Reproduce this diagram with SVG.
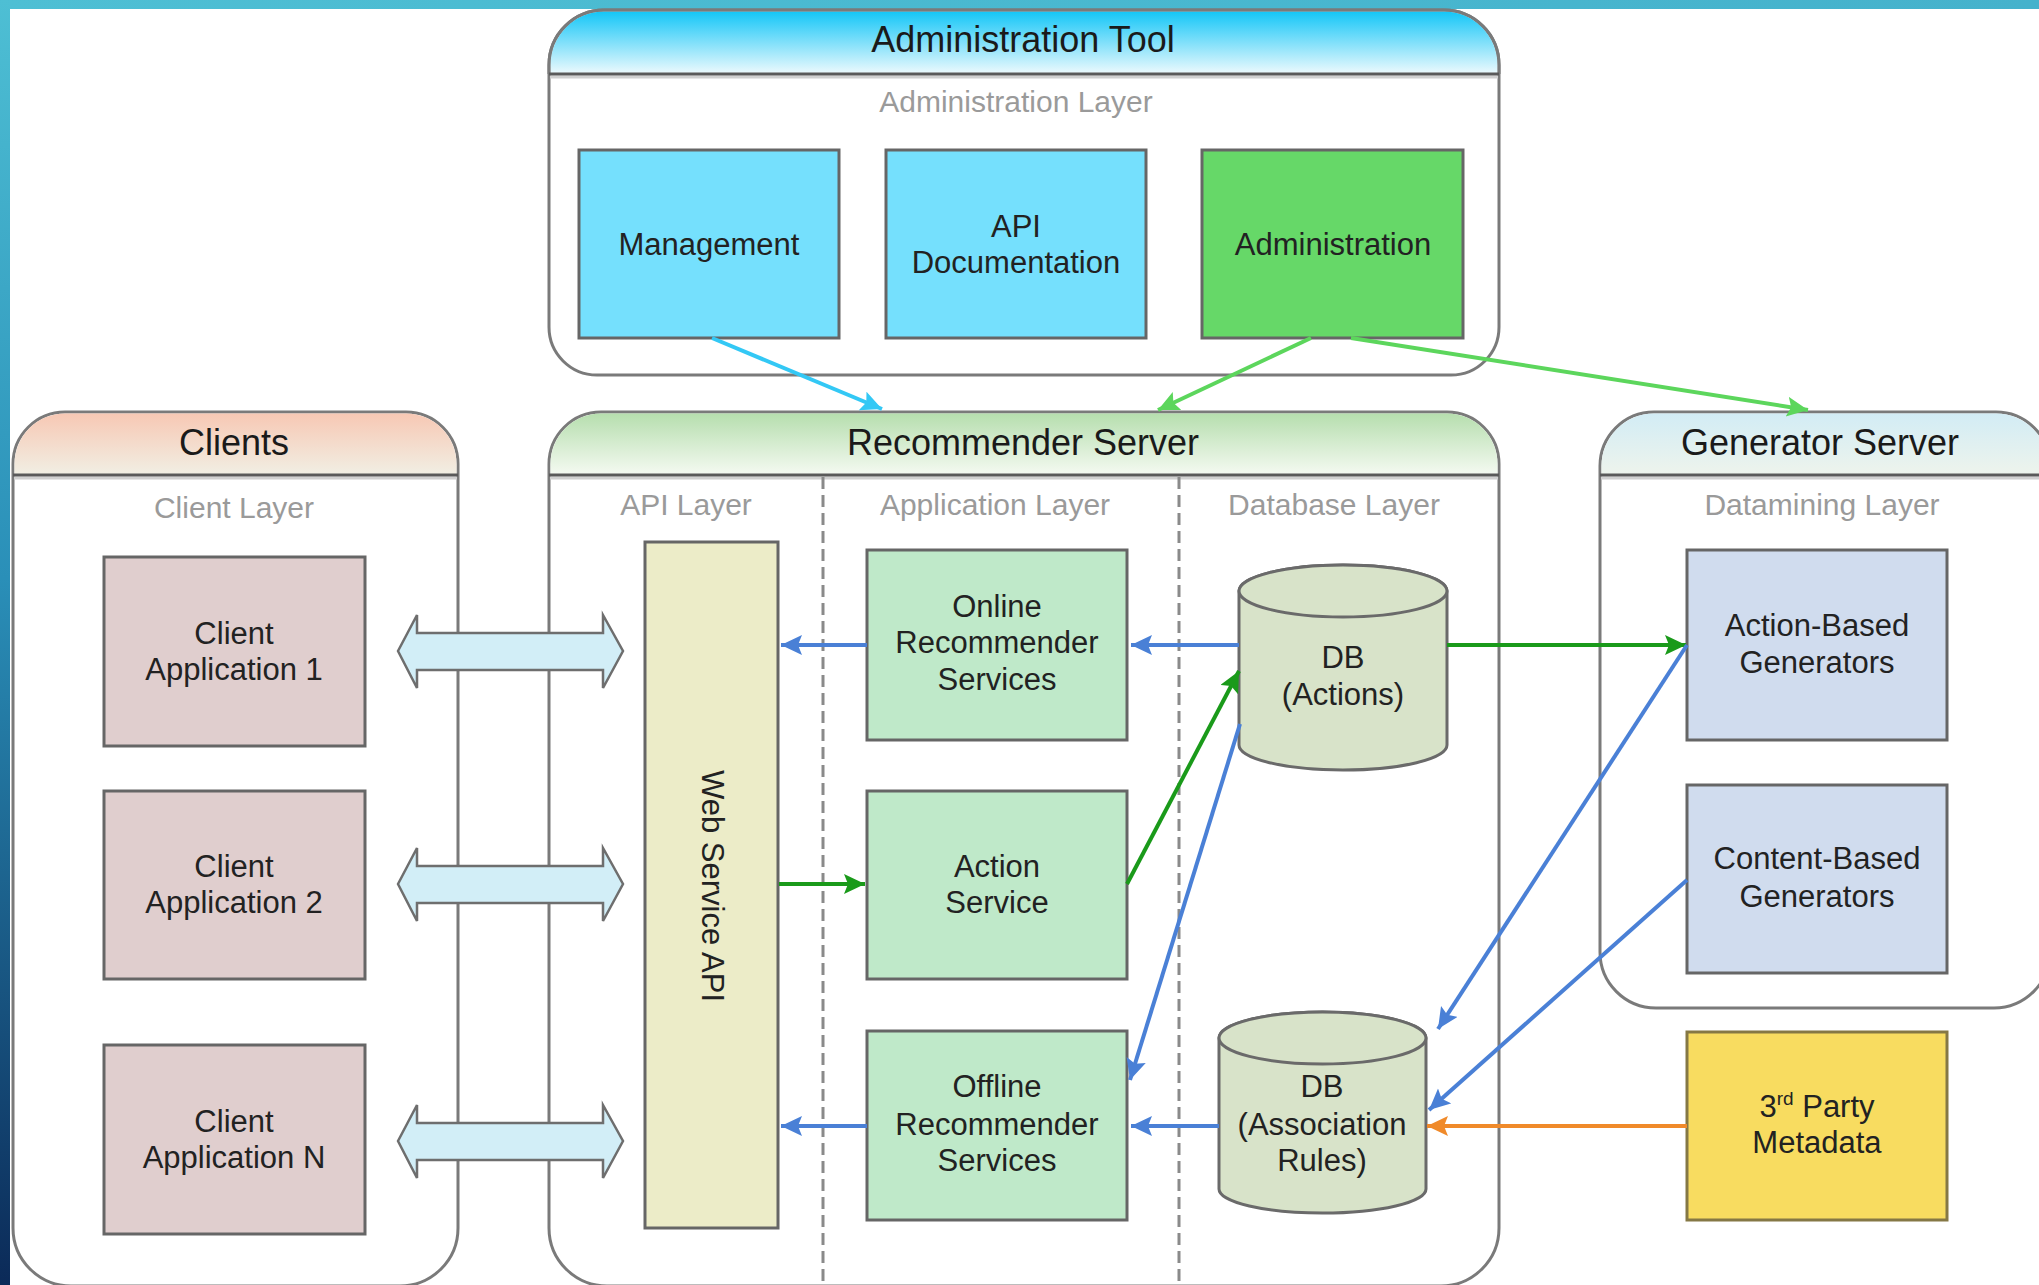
<svg xmlns="http://www.w3.org/2000/svg" width="2039" height="1285" viewBox="0 0 2039 1285">
<style>
text{font-family:"Liberation Sans",Arial,sans-serif;}
.title{font-size:36px;fill:#1a1a1a;text-anchor:middle;}
.layer{font-size:30px;fill:#9a9a9a;text-anchor:middle;}
.lbl{font-size:31px;fill:#222;text-anchor:middle;}
.cont{fill:#fff;stroke:#7a7a7a;stroke-width:3;}
.hline{stroke:#5a5a5a;stroke-width:3;}
.hline2{stroke:#d0d0d0;stroke-width:3;}
.box{stroke:#666;stroke-width:3;}
.blue{fill:#75e0fd;}
.agreen{fill:#66d868;}
.client{fill:#e0cece;}
.ws{fill:#ececc8;}
.app{fill:#bfe9c9;}
.gen{fill:#d0dcee;}
.party{fill:#f8dc60;stroke:#857845;}
.cyl{fill:#d8e3c9;stroke:#6a6a6a;stroke-width:3;}
.dash{stroke:#8a8a8a;stroke-width:3;stroke-dasharray:12 6;fill:none;}
.dbl{fill:#d2eef7;stroke:#6e6e6e;stroke-width:2.5;stroke-linejoin:miter;}
.c{fill:none;stroke-width:4;}
.cb{stroke:#4a80d6;marker-end:url(#mb);}
.cg{stroke:#1a9a1a;marker-end:url(#mg);}
.cl{stroke:#5cd65c;marker-end:url(#ml);}
.cc{stroke:#33c8f5;marker-end:url(#mc);}
.co{stroke:#f08a2a;marker-end:url(#mo);}
</style>
<defs>
<linearGradient id="gLeft" x1="0" y1="0" x2="0" y2="1">
<stop offset="0" stop-color="#4ebfd4"/>
<stop offset="0.45" stop-color="#2a8fb8"/>
<stop offset="1" stop-color="#0b2a58"/>
</linearGradient>
<linearGradient id="gTop" x1="0" y1="0" x2="1" y2="0">
<stop offset="0" stop-color="#4ebfd4"/>
<stop offset="1" stop-color="#45b2cc"/>
</linearGradient>
<linearGradient id="hAdmin" x1="0" y1="0" x2="0" y2="1">
<stop offset="0" stop-color="#14c6f7"/>
<stop offset="1" stop-color="#eefafd"/>
</linearGradient>
<linearGradient id="hClient" x1="0" y1="0" x2="0" y2="1">
<stop offset="0" stop-color="#f7c8b4"/>
<stop offset="1" stop-color="#f1efe4"/>
</linearGradient>
<linearGradient id="hRec" x1="0" y1="0" x2="0" y2="1">
<stop offset="0" stop-color="#b6deae"/>
<stop offset="1" stop-color="#f5faf2"/>
</linearGradient>
<linearGradient id="hGen" x1="0" y1="0" x2="0" y2="1">
<stop offset="0" stop-color="#d2ecf5"/>
<stop offset="1" stop-color="#eef4ec"/>
</linearGradient>
<marker id="mb" markerUnits="userSpaceOnUse" markerWidth="24" markerHeight="22" refX="21" refY="10" orient="auto"><path d="M0,0 L21,10 L0,20 L4,10 Z" fill="#4a80d6"/></marker>
<marker id="mg" markerUnits="userSpaceOnUse" markerWidth="24" markerHeight="22" refX="21" refY="10" orient="auto"><path d="M0,0 L21,10 L0,20 L4,10 Z" fill="#1a9a1a"/></marker>
<marker id="ml" markerUnits="userSpaceOnUse" markerWidth="24" markerHeight="22" refX="21" refY="10" orient="auto"><path d="M0,0 L21,10 L0,20 L4,10 Z" fill="#5cd65c"/></marker>
<marker id="mc" markerUnits="userSpaceOnUse" markerWidth="24" markerHeight="22" refX="21" refY="10" orient="auto"><path d="M0,0 L21,10 L0,20 L4,10 Z" fill="#33c8f5"/></marker>
<marker id="mo" markerUnits="userSpaceOnUse" markerWidth="24" markerHeight="22" refX="21" refY="10" orient="auto"><path d="M0,0 L21,10 L0,20 L4,10 Z" fill="#f08a2a"/></marker>
</defs>

<rect x="0" y="0" width="2039" height="1285" fill="#ffffff"/>
<rect x="0" y="0" width="2039" height="9" fill="url(#gTop)"/>
<rect x="0" y="0" width="10" height="1285" fill="url(#gLeft)"/>

<!-- Containers -->
<g id="admin-tool">
<path class="cont" d="M549,65 A55,55 0 0 1 604,10 L1444,10 A55,55 0 0 1 1499,65 L1499,327 A48,48 0 0 1 1451,375 L597,375 A48,48 0 0 1 549,327 Z"/>
<path d="M550.5,74 L550.5,65 A53.5,53.5 0 0 1 604,11.5 L1444,11.5 A53.5,53.5 0 0 1 1497.5,65 L1497.5,74 Z" fill="url(#hAdmin)"/>
<path class="cont" style="fill:none" d="M549,74 L549,65 A55,55 0 0 1 604,10 L1444,10 A55,55 0 0 1 1499,65 L1499,74"/>
<line class="hline2" x1="550" y1="77" x2="1498" y2="77"/>
<line class="hline" x1="549" y1="74" x2="1499" y2="74"/>
<text class="title" x="1023" y="52">Administration Tool</text>
<text class="layer" x="1016" y="112">Administration Layer</text>
</g>

<g id="clients">
<path class="cont" d="M13,464 A52,52 0 0 1 65,412 L406,412 A52,52 0 0 1 458,464 L458,1228 A58,58 0 0 1 400,1286 L71,1286 A58,58 0 0 1 13,1228 Z"/>
<path d="M14.5,475 L14.5,464 A50.5,50.5 0 0 1 65,413.5 L406,413.5 A50.5,50.5 0 0 1 456.5,464 L456.5,475 Z" fill="url(#hClient)"/>
<line class="hline2" x1="14" y1="478" x2="457" y2="478"/>
<line class="hline" x1="13" y1="475" x2="458" y2="475"/>
<text class="title" x="234" y="455">Clients</text>
<text class="layer" x="234" y="518">Client Layer</text>
</g>

<g id="recommender-server">
<path class="cont" d="M549,464 A52,52 0 0 1 601,412 L1447,412 A52,52 0 0 1 1499,464 L1499,1228 A58,58 0 0 1 1441,1286 L607,1286 A58,58 0 0 1 549,1228 Z"/>
<path d="M550.5,475 L550.5,464 A50.5,50.5 0 0 1 601,413.5 L1447,413.5 A50.5,50.5 0 0 1 1497.5,464 L1497.5,475 Z" fill="url(#hRec)"/>
<line class="hline2" x1="550" y1="478" x2="1498" y2="478"/>
<line class="hline" x1="549" y1="475" x2="1499" y2="475"/>
<text class="title" x="1023" y="455">Recommender Server</text>
<line class="dash" x1="823" y1="477" x2="823" y2="1285"/>
<line class="dash" x1="1179" y1="477" x2="1179" y2="1285"/>
<text class="layer" x="686" y="515">API Layer</text>
<text class="layer" x="995" y="515">Application Layer</text>
<text class="layer" x="1334" y="515">Database Layer</text>
</g>

<g id="generator-server">
<path class="cont" d="M1600,466 A54,54 0 0 1 1654,412 L1996,412 A54,54 0 0 1 2050,466 L2050,952 A56,56 0 0 1 1994,1008 L1656,1008 A56,56 0 0 1 1600,952 Z"/>
<path d="M1601.5,475 L1601.5,466 A52.5,52.5 0 0 1 1654,413.5 L1996,413.5 A52.5,52.5 0 0 1 2048.5,466 L2048.5,475 Z" fill="url(#hGen)"/>
<line class="hline2" x1="1601" y1="478" x2="2049" y2="478"/>
<line class="hline" x1="1600" y1="475" x2="2050" y2="475"/>
<text class="title" x="1820" y="455">Generator Server</text>
<text class="layer" x="1822" y="515">Datamining Layer</text>
</g>

<!-- Admin nodes -->
<g id="management">
<rect class="box blue" x="579" y="150" width="260" height="188"/>
<text class="lbl" x="709" y="255">Management</text>
</g>
<g id="api-documentation">
<rect class="box blue" x="886" y="150" width="260" height="188"/>
<text class="lbl" x="1016" y="237">API</text>
<text class="lbl" x="1016" y="273">Documentation</text>
</g>
<g id="administration">
<rect class="box agreen" x="1202" y="150" width="261" height="188"/>
<text class="lbl" x="1333" y="255">Administration</text>
</g>

<!-- Client nodes -->
<g id="client-app-1">
<rect class="box client" x="104" y="557" width="261" height="189"/>
<text class="lbl" x="234" y="644">Client</text>
<text class="lbl" x="234" y="680">Application 1</text>
</g>
<g id="client-app-2">
<rect class="box client" x="104" y="791" width="261" height="188"/>
<text class="lbl" x="234" y="877">Client</text>
<text class="lbl" x="234" y="913">Application 2</text>
</g>
<g id="client-app-n">
<rect class="box client" x="104" y="1045" width="261" height="189"/>
<text class="lbl" x="234" y="1132">Client</text>
<text class="lbl" x="234" y="1168">Application N</text>
</g>

<!-- Recommender nodes -->
<g id="web-service-api">
<rect class="box ws" x="645" y="542" width="133" height="686"/>
<text class="lbl" transform="translate(702,886) rotate(90)" x="0" y="0">Web Service API</text>
</g>
<g id="online-recommender">
<rect class="box app" x="867" y="550" width="260" height="190"/>
<text class="lbl" x="997" y="617">Online</text>
<text class="lbl" x="997" y="653">Recommender</text>
<text class="lbl" x="997" y="690">Services</text>
</g>
<g id="action-service">
<rect class="box app" x="867" y="791" width="260" height="188"/>
<text class="lbl" x="997" y="877">Action</text>
<text class="lbl" x="997" y="913">Service</text>
</g>
<g id="offline-recommender">
<rect class="box app" x="867" y="1031" width="260" height="189"/>
<text class="lbl" x="997" y="1097">Offline</text>
<text class="lbl" x="997" y="1135">Recommender</text>
<text class="lbl" x="997" y="1171">Services</text>
</g>
<g id="db-actions">
<path class="cyl" d="M1239,591 L1239,745 A104,25 0 0 0 1447,745 L1447,591 A104,26 0 0 0 1239,591 Z"/>
<ellipse class="cyl" cx="1343" cy="591" rx="104" ry="26"/>
<text class="lbl" x="1343" y="668">DB</text>
<text class="lbl" x="1343" y="705">(Actions)</text>
</g>
<g id="db-association-rules">
<path class="cyl" d="M1219,1038 L1219,1189 A103.5,24 0 0 0 1426,1189 L1426,1038 A103.5,26 0 0 0 1219,1038 Z"/>
<ellipse class="cyl" cx="1322.5" cy="1038" rx="103.5" ry="26"/>
<text class="lbl" x="1322" y="1097">DB</text>
<text class="lbl" x="1322" y="1135">(Association</text>
<text class="lbl" x="1322" y="1171">Rules)</text>
</g>

<!-- Generator nodes -->
<g id="action-based-generators">
<rect class="box gen" x="1687" y="550" width="260" height="190"/>
<text class="lbl" x="1817" y="636">Action-Based</text>
<text class="lbl" x="1817" y="673">Generators</text>
</g>
<g id="content-based-generators">
<rect class="box gen" x="1687" y="785" width="260" height="188"/>
<text class="lbl" x="1817" y="869">Content-Based</text>
<text class="lbl" x="1817" y="907">Generators</text>
</g>
<g id="third-party-metadata">
<rect class="box party" x="1687" y="1032" width="260" height="188"/>
<text class="lbl" x="1817" y="1117">3<tspan font-size="19" dy="-12">rd</tspan><tspan dy="12"> Party</tspan></text>
<text class="lbl" x="1817" y="1153">Metadata</text>
</g>

<!-- Connectors -->
<g id="connectors">
<path class="c cc" d="M712,338 L882,409"/>
<path class="c cl" d="M1311,338 L1158,410"/>
<path class="c cl" d="M1351,338 L1808,410"/>

<polygon class="dbl" points="398,651 417,615 417,633 603,633 603,615 623,651 603,688 603,670 417,670 417,688"/>
<polygon class="dbl" points="398,884 417,848 417,866 603,866 603,848 623,884 603,921 603,903 417,903 417,921"/>
<polygon class="dbl" points="398,1141 417,1105 417,1123 603,1123 603,1105 623,1141 603,1178 603,1160 417,1160 417,1178"/>

<path class="c cb" d="M867,645 L781,645"/>
<path class="c cb" d="M1239,645 L1131,645"/>
<path class="c cb" d="M867,1126 L781,1126"/>
<path class="c cb" d="M1219,1126 L1131,1126"/>
<path class="c cg" d="M779,884 L865,884"/>
<path class="c cg" d="M1127,884 L1239,671"/>
<path class="c cg" d="M1447,645 L1686,645"/>
<path class="c cb" d="M1240,724 L1130,1080"/>
<path class="c cb" d="M1687,645 L1438,1029"/>
<path class="c cb" d="M1687,880 L1429,1110"/>
<path class="c co" d="M1687,1126 L1427,1126"/>
</g>
</svg>
